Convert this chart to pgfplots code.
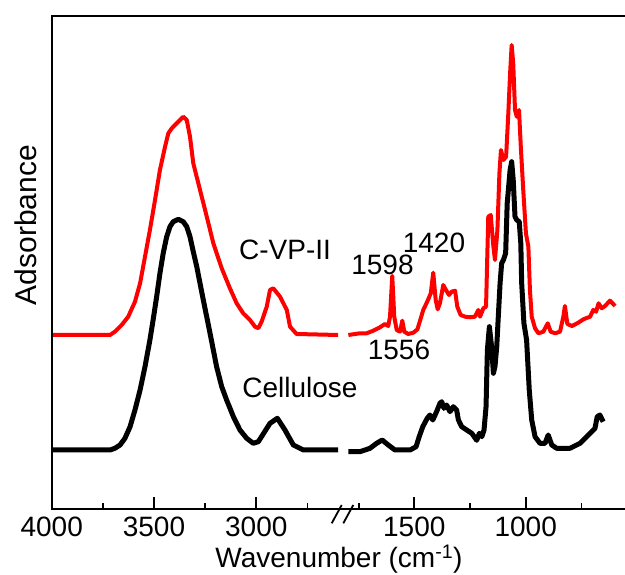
\documentclass[border=0pt]{standalone}
\usepackage{fontspec}
\setmainfont{Liberation Sans}
\usepackage{pgfplots}
\pgfplotsset{compat=1.18}
\newcommand\fs{\fontsize{28pt}{33pt}\selectfont}
\begin{document}
\begin{tikzpicture}[x=1pt,y=1pt]
\useasboundingbox (0,0) rectangle (625,575);
\pgfplotsset{brk/.style={scale only axis, height=493.6pt, ymin=0, ymax=4.936,
  x dir=reverse, hide y axis, xtick pos=bottom, tick align=inside,
  major tick length=0pt, axis line style={line width=1.8pt},
  xticklabel style={font=\fs, yshift=-4pt}, clip=false}}
\begin{axis}[brk, at={(51.7pt,65.7pt)}, anchor=south west, width=294.3pt,
  xmin=2561.6, xmax=4000, xtick={4000,3500,3000}, xticklabels={4000,3500,3000}]
\addplot[red, line width=4pt, line join=round] coordinates {
(4000,1.743)(3715,1.743)(3691,1.776)(3658,1.843)(3626,1.926)(3593,2.076)(3568,2.26)
(3544,2.526)(3520,2.793)(3495,3.093)(3471,3.393)(3446,3.626)(3430,3.76)(3413,3.81)
(3389,3.86)(3357,3.926)(3340,3.893)(3324,3.726)(3308,3.46)(3275,3.193)(3242,2.926)
(3210,2.66)(3169,2.41)(3129,2.21)(3096,2.06)(3064,1.96)(3031,1.893)(3006,1.826)
(2990,1.81)(2974,1.876)(2949,2.026)(2933,2.193)(2917,2.21)(2884,2.126)(2851,1.993)
(2835,1.826)(2803,1.753)(2600,1.743)};
\addplot[black, line width=5pt, line join=round] coordinates {
(4000,0.593)(3715,0.593)(3691,0.61)(3666,0.643)(3642,0.71)(3617,0.826)(3593,0.993)
(3568,1.193)(3544,1.426)(3520,1.693)(3503,1.91)(3487,2.126)(3471,2.36)(3455,2.56)
(3438,2.726)(3422,2.826)(3406,2.876)(3381,2.90)(3357,2.876)(3340,2.826)(3324,2.726)
(3308,2.576)(3291,2.426)(3259,2.093)(3226,1.76)(3194,1.426)(3169,1.226)(3145,1.093)
(3112,0.926)(3080,0.793)(3047,0.71)(3015,0.66)(2990,0.676)(2933,0.86)(2897,0.91)
(2860,0.793)(2819,0.643)(2770,0.593)(2600,0.593)};
\end{axis}
\begin{axis}[brk, at={(346pt,65.7pt)}, anchor=south west, width=279pt,
  xmin=554.3, xmax=1806.6, xtick={1500,1000}, xticklabels={1500,1000}]
\addplot[red, line width=4pt, line join=round] coordinates {
(1796,1.743)(1744,1.76)(1714,1.76)(1684,1.786)(1654,1.82)(1632,1.853)(1617,1.833)
(1609,1.926)(1599,2.333)(1590,1.926)(1579,1.793)(1564,1.776)(1554,1.886)(1545,1.776)
(1527,1.753)(1504,1.766)(1486,1.80)(1471,1.91)(1460,1.993)(1442,2.076)(1426,2.16)
(1415,2.366)(1404,2.093)(1395,2.00)(1385,2.06)(1370,2.243)(1358,2.193)(1344,2.143)
(1332,2.176)(1317,2.186)(1307,2.026)(1292,1.943)(1272,1.926)(1250,1.92)(1228,1.926)
(1213,1.993)(1205,1.926)(1190,2.01)(1178,2.026)(1168,2.926)(1157,2.943)(1145,2.626)
(1138,2.493)(1127,2.793)(1118,3.36)(1111,3.593)(1100,3.493)(1088,3.526)(1078,3.96)
(1070,4.36)(1063,4.643)(1056,4.46)(1048,3.993)(1040,3.926)(1030,3.993)(1022,3.626)
(1011,3.193)(999,2.76)(988,2.626)(981,2.193)(973,1.926)(958,1.81)(943,1.76)
(921,1.776)(901,1.86)(888,1.776)(868,1.76)(846,1.776)(831,1.926)(824,2.033)
(813,1.853)(792,1.833)(764,1.866)(741,1.90)(711,1.926)(697,1.993)(684,1.976)
(673,2.06)(659,2.01)(644,2.033)(622,2.086)(607,2.053)(599,2.033)};
\addplot[black, line width=5pt, line join=round] coordinates {
(1796,0.576)(1744,0.576)(1699,0.61)(1669,0.66)(1644,0.693)(1617,0.643)(1587,0.593)
(1519,0.593)(1492,0.626)(1478,0.726)(1462,0.826)(1442,0.91)(1430,0.943)(1417,0.893)
(1400,0.976)(1385,1.06)(1377,1.076)(1367,1.01)(1355,1.043)(1340,0.976)(1325,1.026)
(1310,0.993)(1302,0.893)(1287,0.826)(1265,0.793)(1242,0.76)(1220,0.69)(1208,0.76)
(1197,0.726)(1187,0.793)(1178,1.026)(1172,1.593)(1163,1.826)(1153,1.626)(1145,1.36)
(1138,1.426)(1130,1.626)(1123,1.926)(1115,2.26)(1108,2.46)(1100,2.493)(1090,2.56)
(1083,3.06)(1070,3.393)(1063,3.476)(1056,3.293)(1048,2.926)(1040,2.893)(1029,2.876)
(1022,2.66)(1018,2.26)(1008,1.86)(996,1.693)(984,1.193)(973,0.893)(958,0.726)
(936,0.66)(913,0.66)(899,0.743)(883,0.643)(861,0.61)(801,0.61)(756,0.66)(726,0.726)
(704,0.776)(689,0.81)(679,0.926)(667,0.943)(656,0.893)(652,0.876)};
\end{axis}
\draw[line width=1.8pt] (51.7,64.8) -- (51.7,560.2);
\foreach \px/\len in {154.0/12,256.3/12,414.3/12,525.7/12,102.9/6,205.2/6,307.5/6,358.6/6,470.0/6,581.4/6}
  {\draw[line width=1.8pt] (\px,65.7) -- ++(0,\len);}
\draw[line width=1.8pt] (331.7,51.7) -- (341.7,70) (343.3,51.7) -- (353.3,70);
\node[font=\fs, anchor=base] at (285,315) {C-VP-II};
\node[font=\fs, anchor=base] at (300,177) {Cellulose};
\node[font=\fs, anchor=base] at (382.5,300) {1598};
\node[font=\fs, anchor=base] at (434,322) {1420};
\node[font=\fs, anchor=base] at (399,215) {1556};
\node[font=\fs, anchor=base] at (339,7) {Wavenumber (cm\textsuperscript{-1})};
\node[font=\fontsize{30pt}{36pt}\selectfont, anchor=base, rotate=90] at (37,350) {Adsorbance};
\end{tikzpicture}
\end{document}
